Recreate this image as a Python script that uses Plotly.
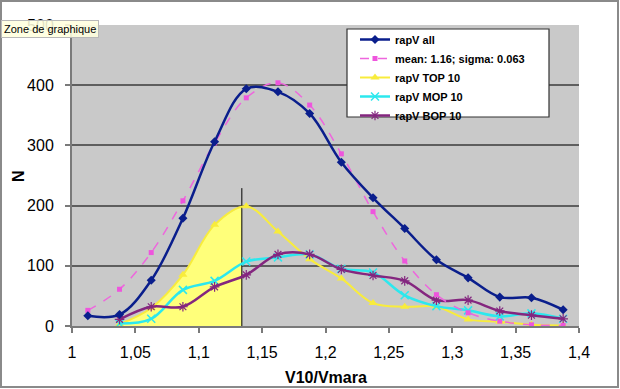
import plotly.graph_objects as go

# Bin centres (V10/Vmara)
x_bins = [1.0125, 1.0375, 1.0625, 1.0875, 1.1125, 1.1375, 1.1625, 1.1875,
          1.2125, 1.2375, 1.2625, 1.2875, 1.3125, 1.3375, 1.3625, 1.3875]

rapv_all = [17, 19, 76, 179, 306, 394, 389, 353, 272, 213, 162, 110, 80, 48, 47, 27]
gauss_fit = [26, 61, 122, 208, 304, 379, 404, 367, 286, 190, 108, 52, 22, 8, 2, 1]

x_sub = x_bins[1:]
rapv_top10 = [3, 30, 85, 168, 199, 157, 111, 79, 38, 32, 32, 11, 7, 2, 1]
rapv_mop10 = [4, 12, 60, 75, 107, 114, 119, 95, 89, 51, 33, 26, 16, 21, 12]
rapv_bop10 = [11, 32, 32, 65, 85, 119, 119, 94, 84, 75, 43, 43, 25, 18, 12]

# shaded part of TOP 10 up to the cut-off line
cutoff = 1.134
cutoff_top = 229
fill_x = [1.0375, 1.0625, 1.0875, 1.1125, cutoff]
fill_y = [3, 30, 85, 168, 199]

x_ticks = [1, 1.05, 1.1, 1.15, 1.2, 1.25, 1.3, 1.35, 1.4]
x_labels = ["1", "1,05", "1,1", "1,15", "1,2", "1,25", "1,3", "1,35", "1,4"]
y_ticks = [0, 100, 200, 300, 400, 500]

FONT = "Liberation Sans, Arial, Helvetica, sans-serif"

fig = go.Figure()

fig.add_trace(go.Scatter(
    x=fill_x, y=fill_y, mode="lines", line=dict(color="rgba(0,0,0,0)", shape="spline"),
    fill="tozeroy", fillcolor="#FFFF7A", showlegend=False, hoverinfo="skip"))

fig.add_trace(go.Scatter(
    x=[cutoff, cutoff], y=[0, cutoff_top], mode="lines",
    line=dict(color="black", width=1), showlegend=False, hoverinfo="skip"))

fig.add_trace(go.Scatter(
    x=x_sub, y=rapv_top10, name="rapV TOP 10", mode="lines+markers", legendrank=3,
    line=dict(color="#F8EC3C", width=2, shape="spline"),
    marker=dict(symbol="triangle-up", size=8, color="#F8EC3C")))

fig.add_trace(go.Scatter(
    x=x_sub, y=rapv_mop10, name="rapV MOP 10", mode="lines+markers", legendrank=4,
    line=dict(color="#2CE8EE", width=2.5, shape="spline"),
    marker=dict(symbol="x-thin", size=8, line=dict(color="#2CE8EE", width=1.5))))

fig.add_trace(go.Scatter(
    x=x_sub, y=rapv_bop10, name="rapV BOP 10", mode="lines+markers", legendrank=5,
    line=dict(color="#84267F", width=2.5, shape="spline"),
    marker=dict(symbol="asterisk-open", size=8, line=dict(color="#84267F", width=1.2))))

fig.add_trace(go.Scatter(
    x=x_bins, y=gauss_fit, name="mean: 1.16; sigma: 0.063", mode="lines+markers", legendrank=2,
    line=dict(color="#EE66DD", width=1.5, dash="dash", shape="spline"),
    marker=dict(symbol="square", size=5, color="#EE55DD")))

fig.add_trace(go.Scatter(
    x=x_bins, y=rapv_all, name="rapV all", mode="lines+markers", legendrank=1,
    line=dict(color="#0A1E8C", width=2.5, shape="spline"),
    marker=dict(symbol="diamond", size=7, color="#0A1E8C")))

W, H = 620, 389
L, R, T, B = 72, 41, 25, 63
pw, ph = W - L - R, H - T - B

def px(x):
    return (x - L) / pw

def py(y):
    return (H - B - y) / ph

fig.update_layout(
    width=W, height=H,
    margin=dict(l=L, r=R, t=T, b=B, autoexpand=False),
    paper_bgcolor="white", plot_bgcolor="#C9C9C9",
    font=dict(family=FONT, color="black"),
    showlegend=True,
    legend=dict(
        x=px(355), y=py(25), xanchor="left", yanchor="top",
        bgcolor="rgba(0,0,0,0)", borderwidth=0,
        font=dict(size=11, family=FONT, weight="bold"),
        traceorder="normal", tracegroupgap=0,
    ),
    xaxis=dict(
        range=[1, 1.4], tickvals=x_ticks, ticktext=x_labels,
        showgrid=False, zeroline=False,
        showline=True, linecolor="#7A7A7A", linewidth=2,
        ticks="outside", ticklen=5, tickcolor="#7A7A7A", tickwidth=2,
        tickfont=dict(size=16), ticklabelstandoff=6,
    ),
    yaxis=dict(
        range=[0, 500], tickvals=y_ticks,
        showgrid=True, gridcolor="#5E5E5E", gridwidth=2, zeroline=False,
        showline=True, linecolor="#7A7A7A", linewidth=2,
        ticks="outside", ticklen=5, tickcolor="#7A7A7A", tickwidth=2,
        tickfont=dict(size=16), ticklabelstandoff=8,
    ),
    shapes=[
        dict(type="rect", xref="paper", yref="paper",
             x0=px(347), x1=px(549), y0=py(29), y1=py(117),
             fillcolor="white", line=dict(color="#333333", width=1.2), layer="above"),
        dict(type="rect", xref="paper", yref="paper",
             x0=px(1), x1=px(618), y0=py(1), y1=py(387),
             fillcolor="rgba(0,0,0,0)", line=dict(color="#8A8A8A", width=2), layer="above"),
    ],
    annotations=[
        dict(text="N", xref="paper", yref="paper", x=px(18), y=py(176),
             showarrow=False, textangle=-90, font=dict(size=16, weight="bold"),
             xanchor="center", yanchor="middle"),
        dict(text="V10/Vmara", xref="paper", yref="paper", x=0.5, y=py(377),
             showarrow=False, font=dict(size=16, weight="bold"),
             xanchor="center", yanchor="middle"),
        dict(text="Zone de graphique", xref="paper", yref="paper", x=px(1), y=py(29),
             showarrow=False, font=dict(size=11, color="black"),
             xanchor="left", yanchor="middle", bgcolor="rgba(255,255,222,0.88)",
             bordercolor="#B8B8B8", borderwidth=1, borderpad=2),
    ],
)

fig.write_html("out.html", config={"displayModeBar": False},
               post_script="document.body.style.margin='0';document.body.style.padding='0';")
